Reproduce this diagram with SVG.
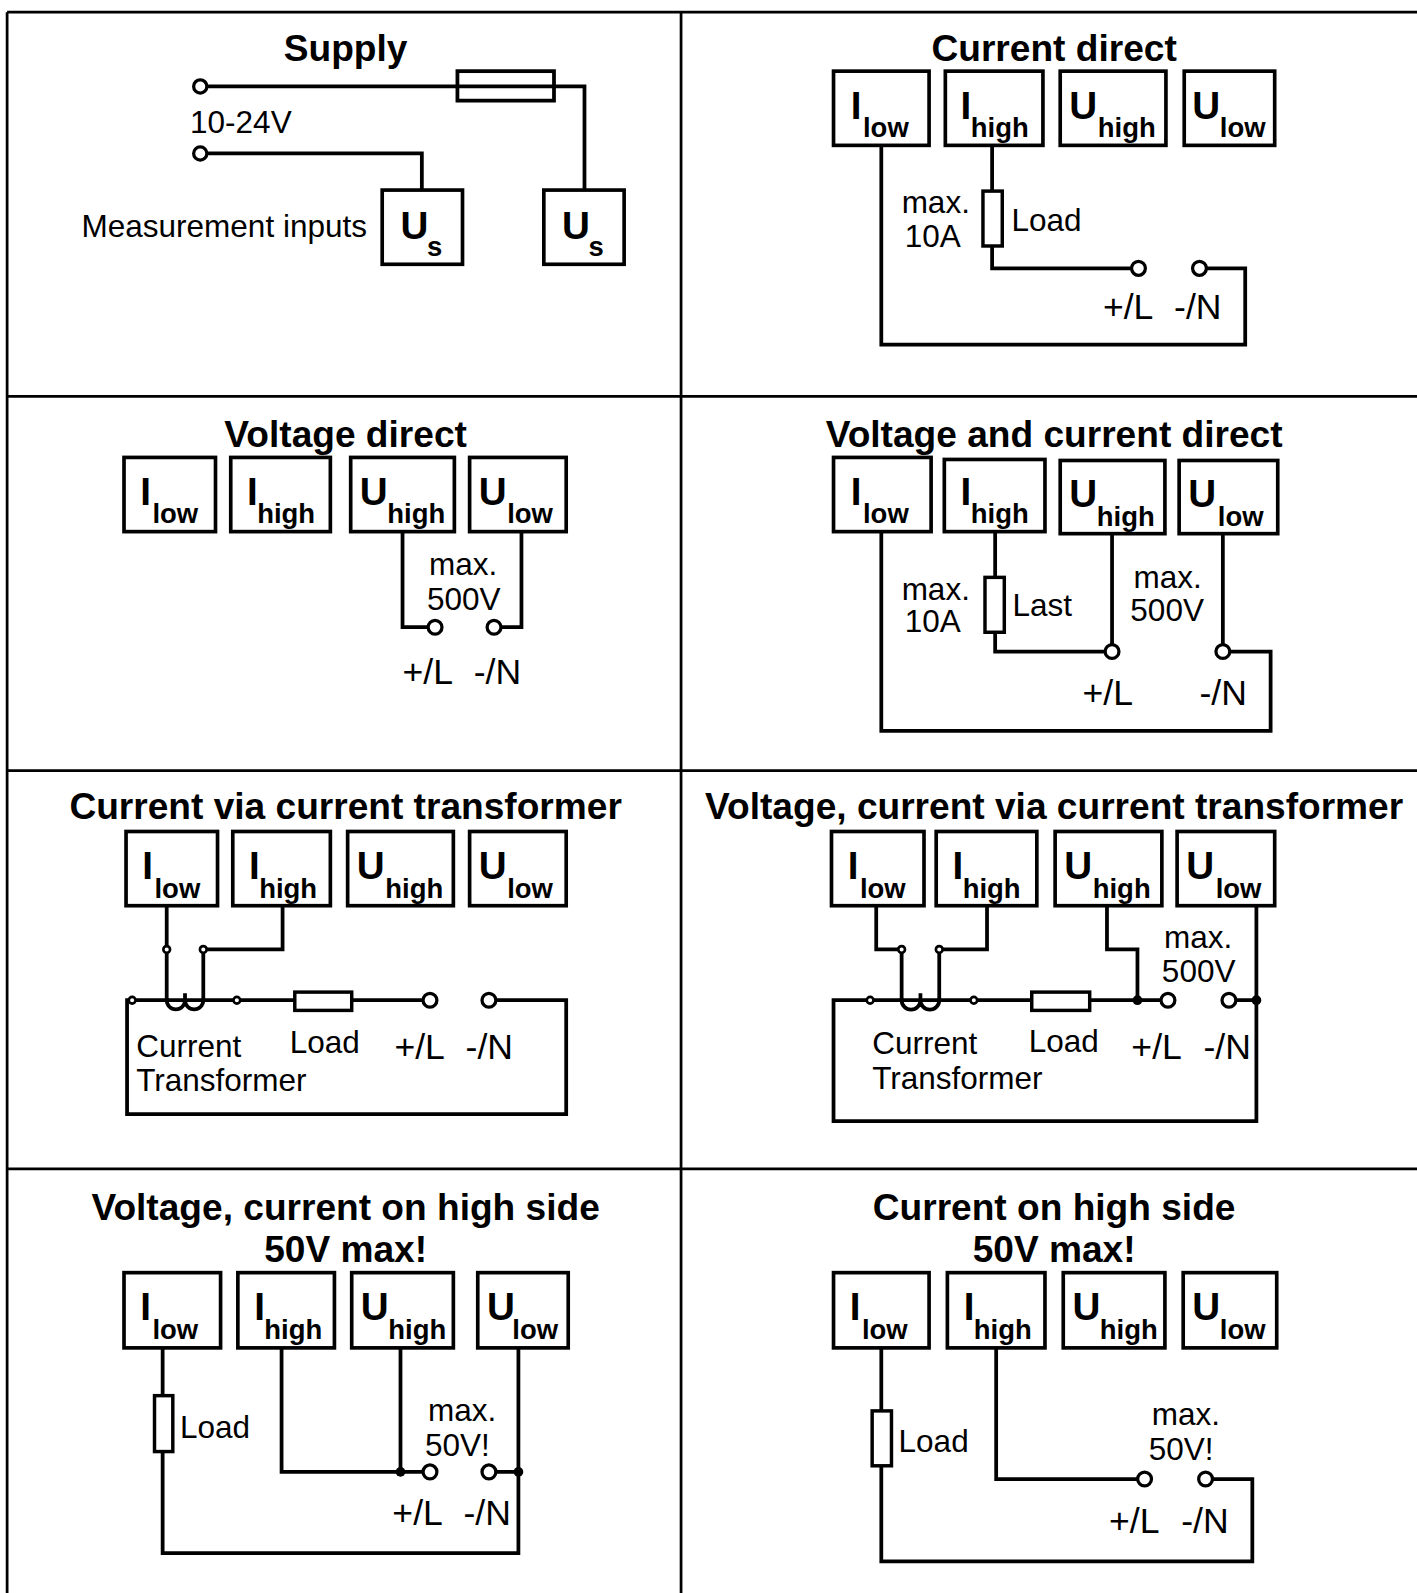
<svg xmlns="http://www.w3.org/2000/svg" width="1417" height="1593" viewBox="0 0 1417 1593">
<style>
.grid{stroke:#000;stroke-width:2.7;fill:none}
.w{stroke:#000;stroke-width:3.7;fill:none;stroke-linecap:square}
.box{fill:#fff;stroke:#000;stroke-width:3.6}
.res{fill:#fff;stroke:#000;stroke-width:3.4}
.term{fill:#fff;stroke:#000;stroke-width:3.2}
.tap{fill:#fff;stroke:#000;stroke-width:2.6}
.dot{fill:#000}
text{font-family:"Liberation Sans",Arial,sans-serif;fill:#000}
.title{font-weight:bold;font-size:36.5px;text-anchor:middle}
.lbl{font-size:31px}
.pn{font-size:35px}
.big{font-weight:bold;font-size:38px}
.sub{font-weight:bold;font-size:27px}
</style>
<rect width="1417" height="1593" fill="#fff"/>
<g transform="scale(1.0165)">
<g id="grid" class="grid">
<path d="M7 12H1400M7 390H1400M7 758H1400M7 1150H1400M7 12V1580M670 12V1580"/>
</g>

<!-- Panel 1: Supply -->
<g id="p1">
<text class="title" x="340" y="60">Supply</text>
<text class="lbl" x="187" y="131">10-24V</text>
<text class="lbl" x="361" y="233" text-anchor="end">Measurement inputs</text>
<g id="p1-connectors">
<path class="w" d="M203 85H575V187M203 151H415V187"/>
<rect class="w" x="450" y="70" width="95" height="29"/>
<circle class="term" cx="197" cy="85" r="6.5"/>
<circle class="term" cx="197" cy="151" r="6.5"/>
</g>
<g id="p1-us1"><rect class="box" x="376" y="187" width="79" height="73"/><text class="big" x="394" y="235">U</text><text class="sub" x="420" y="252">s</text></g>
<g id="p1-us2"><rect class="box" x="535" y="187" width="79" height="73"/><text class="big" x="553" y="235">U</text><text class="sub" x="579" y="252">s</text></g>
</g>

<!-- Panel 2: Current direct -->
<g id="p2">
<text class="title" x="1037" y="60">Current direct</text>
<g id="p2-connectors">
<path class="w" d="M867 143V339H1225V264H1187M976 143V188M976 242V264H1113"/>
<rect class="res" x="967" y="188" width="19" height="54"/>
<circle class="term" cx="1120" cy="264" r="6.8"/>
<circle class="term" cx="1180" cy="264" r="6.8"/>
</g>
<g id="p2-ilow"><rect class="box" x="820" y="70" width="94" height="73"/><text class="big" x="837" y="117">I</text><text class="sub" x="849" y="135">low</text></g>
<g id="p2-ihigh"><rect class="box" x="930" y="70" width="96" height="73"/><text class="big" x="945" y="117">I</text><text class="sub" x="955" y="135">high</text></g>
<g id="p2-uhigh"><rect class="box" x="1043" y="70" width="104" height="73"/><text class="big" x="1052" y="117">U</text><text class="sub" x="1080" y="135">high</text></g>
<g id="p2-ulow"><rect class="box" x="1165" y="70" width="89" height="73"/><text class="big" x="1173" y="117">U</text><text class="sub" x="1200" y="135">low</text></g>
<text class="lbl" x="887" y="210">max.</text>
<text class="lbl" x="890" y="243">10A</text>
<text class="lbl" x="995" y="227">Load</text>
<text class="pn" x="1085" y="314">+/L</text>
<text class="pn" x="1155" y="314">-/N</text>
</g>

<!-- Panel 3: Voltage direct -->
<g id="p3">
<text class="title" x="340" y="440">Voltage direct</text>
<g id="p3-connectors">
<path class="w" d="M396 523V617H421M513 523V617H493"/>
<circle class="term" cx="428" cy="617" r="6.8"/>
<circle class="term" cx="486" cy="617" r="6.8"/>
</g>
<g id="p3-ilow"><rect class="box" x="122" y="450" width="90" height="73"/><text class="big" x="138" y="497">I</text><text class="sub" x="150" y="515">low</text></g>
<g id="p3-ihigh"><rect class="box" x="227" y="450" width="98" height="73"/><text class="big" x="243" y="497">I</text><text class="sub" x="253" y="515">high</text></g>
<g id="p3-uhigh"><rect class="box" x="345" y="450" width="102" height="73"/><text class="big" x="354" y="497">U</text><text class="sub" x="381" y="515">high</text></g>
<g id="p3-ulow"><rect class="box" x="462" y="450" width="95" height="73"/><text class="big" x="471" y="497">U</text><text class="sub" x="499" y="515">low</text></g>
<text class="lbl" x="422" y="566">max.</text>
<text class="lbl" x="420" y="600">500V</text>
<text class="pn" x="396" y="673">+/L</text>
<text class="pn" x="466" y="673">-/N</text>
</g>

<!-- Panel 4: Voltage and current direct -->
<g id="p4">
<text class="title" x="1037" y="440">Voltage and current direct</text>
<g id="p4-connectors">
<path class="w" d="M867 523V719H1250V641H1210M1203 525V634M979 523V568M979 622V641H1087M1094 525V634"/>
<rect class="res" x="969" y="568" width="19" height="54"/>
<circle class="term" cx="1094" cy="641" r="6.8"/>
<circle class="term" cx="1203" cy="641" r="6.8"/>
</g>
<g id="p4-ilow"><rect class="box" x="820" y="450" width="96" height="73"/><text class="big" x="837" y="497">I</text><text class="sub" x="849" y="515">low</text></g>
<g id="p4-ihigh"><rect class="box" x="929" y="452" width="99" height="71"/><text class="big" x="945" y="497">I</text><text class="sub" x="955" y="515">high</text></g>
<g id="p4-uhigh"><rect class="box" x="1043" y="453" width="103" height="72"/><text class="big" x="1052" y="499">U</text><text class="sub" x="1079" y="517">high</text></g>
<g id="p4-ulow"><rect class="box" x="1160" y="453" width="97" height="72"/><text class="big" x="1169" y="499">U</text><text class="sub" x="1198" y="517">low</text></g>
<text class="lbl" x="887" y="590">max.</text>
<text class="lbl" x="890" y="622">10A</text>
<text class="lbl" x="996" y="606">Last</text>
<text class="lbl" x="1115" y="578">max.</text>
<text class="lbl" x="1112" y="611">500V</text>
<text class="pn" x="1065" y="694">+/L</text>
<text class="pn" x="1180" y="694">-/N</text>
</g>

<!-- Panel 5: Current via current transformer -->
<g id="p5">
<text class="title" x="340" y="806">Current via current transformer</text>
<g id="p5-connectors">
<path class="w" d="M164 891V984M278 891V934H200V984M125 984H416M488 984H557V1096H125V984"/>
<path class="w" d="M164 984A9 9 0 0 0 182 984A9 9 0 0 0 200 984M182 979V984"/>
<rect class="res" x="290" y="976" width="56" height="18"/>
<circle class="tap" cx="164" cy="934" r="3.3"/>
<circle class="tap" cx="200" cy="934" r="3.3"/>
<circle class="tap" cx="130" cy="984" r="3.3"/>
<circle class="tap" cx="233" cy="984" r="3.3"/>
<circle class="term" cx="423" cy="984" r="6.8"/>
<circle class="term" cx="481" cy="984" r="6.8"/>
</g>
<g id="p5-ilow"><rect class="box" x="124" y="818" width="90" height="73"/><text class="big" x="140" y="865">I</text><text class="sub" x="152" y="883">low</text></g>
<g id="p5-ihigh"><rect class="box" x="229" y="818" width="96" height="73"/><text class="big" x="245" y="865">I</text><text class="sub" x="255" y="883">high</text></g>
<g id="p5-uhigh"><rect class="box" x="342" y="818" width="104" height="73"/><text class="big" x="351" y="865">U</text><text class="sub" x="379" y="883">high</text></g>
<g id="p5-ulow"><rect class="box" x="462" y="818" width="95" height="73"/><text class="big" x="471" y="865">U</text><text class="sub" x="499" y="883">low</text></g>
<text class="lbl" x="134" y="1040">Current</text>
<text class="lbl" x="134" y="1073">Transformer</text>
<text class="lbl" x="285" y="1036">Load</text>
<text class="pn" x="388" y="1042">+/L</text>
<text class="pn" x="458" y="1042">-/N</text>
</g>

<!-- Panel 6: Voltage, current via current transformer -->
<g id="p6">
<text class="title" x="1037" y="806">Voltage, current via current transformer</text>
<g id="p6-connectors">
<path class="w" d="M862 891V934H887V984M971 891V934H924V984M820 984H1142M1089 891V934H1119V984M1216 984H1236M1236 891V1103H820V984"/>
<path class="w" d="M887 984A9.25 9.25 0 0 0 905.5 984A9.25 9.25 0 0 0 924 984M905.5 979V984"/>
<rect class="res" x="1015" y="976" width="57" height="18"/>
<circle class="tap" cx="887" cy="934" r="3.3"/>
<circle class="tap" cx="924" cy="934" r="3.3"/>
<circle class="tap" cx="856" cy="984" r="3.3"/>
<circle class="tap" cx="958" cy="984" r="3.3"/>
<circle class="dot" cx="1119" cy="984" r="4.8"/>
<circle class="dot" cx="1236" cy="984" r="4.8"/>
<circle class="term" cx="1149" cy="984" r="6.8"/>
<circle class="term" cx="1209" cy="984" r="6.8"/>
</g>
<g id="p6-ilow"><rect class="box" x="818" y="818" width="91" height="73"/><text class="big" x="834" y="865">I</text><text class="sub" x="846" y="883">low</text></g>
<g id="p6-ihigh"><rect class="box" x="921" y="818" width="99" height="73"/><text class="big" x="937" y="865">I</text><text class="sub" x="947" y="883">high</text></g>
<g id="p6-uhigh"><rect class="box" x="1038" y="818" width="105" height="73"/><text class="big" x="1047" y="865">U</text><text class="sub" x="1075" y="883">high</text></g>
<g id="p6-ulow"><rect class="box" x="1158" y="818" width="96" height="73"/><text class="big" x="1167" y="865">U</text><text class="sub" x="1196" y="883">low</text></g>
<text class="lbl" x="1145" y="933">max.</text>
<text class="lbl" x="1143" y="966">500V</text>
<text class="lbl" x="858" y="1037">Current</text>
<text class="lbl" x="858" y="1071">Transformer</text>
<text class="lbl" x="1012" y="1035">Load</text>
<text class="pn" x="1113" y="1042">+/L</text>
<text class="pn" x="1184" y="1042">-/N</text>
</g>

<!-- Panel 7: Voltage, current on high side -->
<g id="p7">
<text class="title" x="340" y="1200">Voltage, current on high side</text>
<text class="title" x="340" y="1242">50V max!</text>
<g id="p7-connectors">
<path class="w" d="M160 1326V1373M160 1428V1528H510V1326M488 1448H510M277 1326V1448H416M394 1326V1448"/>
<rect class="res" x="152" y="1373" width="18" height="55"/>
<circle class="dot" cx="510" cy="1448" r="4.8"/>
<circle class="dot" cx="394" cy="1448" r="4.8"/>
<circle class="term" cx="423" cy="1448" r="6.8"/>
<circle class="term" cx="481" cy="1448" r="6.8"/>
</g>
<g id="p7-ilow"><rect class="box" x="122" y="1252" width="95" height="74"/><text class="big" x="138" y="1299">I</text><text class="sub" x="150" y="1317">low</text></g>
<g id="p7-ihigh"><rect class="box" x="234" y="1252" width="95" height="74"/><text class="big" x="250" y="1299">I</text><text class="sub" x="260" y="1317">high</text></g>
<g id="p7-uhigh"><rect class="box" x="346" y="1252" width="100" height="74"/><text class="big" x="355" y="1299">U</text><text class="sub" x="382" y="1317">high</text></g>
<g id="p7-ulow"><rect class="box" x="470" y="1252" width="89" height="74"/><text class="big" x="479" y="1299">U</text><text class="sub" x="504" y="1317">low</text></g>
<text class="lbl" x="177" y="1415">Load</text>
<text class="lbl" x="421" y="1398">max.</text>
<text class="lbl" x="418" y="1432">50V!</text>
<text class="pn" x="386" y="1500">+/L</text>
<text class="pn" x="456" y="1500">-/N</text>
</g>

<!-- Panel 8: Current on high side -->
<g id="p8">
<text class="title" x="1037" y="1200">Current on high side</text>
<text class="title" x="1037" y="1242">50V max!</text>
<g id="p8-connectors">
<path class="w" d="M867 1326V1388M867 1442V1536H1232V1455H1193M980 1326V1455H1119"/>
<rect class="res" x="858" y="1388" width="19" height="54"/>
<circle class="term" cx="1126" cy="1455" r="6.8"/>
<circle class="term" cx="1186" cy="1455" r="6.8"/>
</g>
<g id="p8-ilow"><rect class="box" x="820" y="1252" width="94" height="74"/><text class="big" x="836" y="1299">I</text><text class="sub" x="848" y="1317">low</text></g>
<g id="p8-ihigh"><rect class="box" x="932" y="1252" width="96" height="74"/><text class="big" x="948" y="1299">I</text><text class="sub" x="958" y="1317">high</text></g>
<g id="p8-uhigh"><rect class="box" x="1046" y="1252" width="100" height="74"/><text class="big" x="1055" y="1299">U</text><text class="sub" x="1082" y="1317">high</text></g>
<g id="p8-ulow"><rect class="box" x="1164" y="1252" width="92" height="74"/><text class="big" x="1173" y="1299">U</text><text class="sub" x="1200" y="1317">low</text></g>
<text class="lbl" x="884" y="1428">Load</text>
<text class="lbl" x="1133" y="1402">max.</text>
<text class="lbl" x="1130" y="1436">50V!</text>
<text class="pn" x="1091" y="1508">+/L</text>
<text class="pn" x="1162" y="1508">-/N</text>
</g>
</g>
</svg>
